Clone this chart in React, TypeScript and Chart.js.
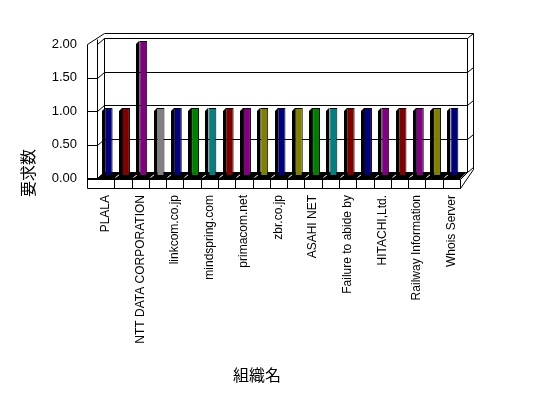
import React, { useEffect, useRef } from "react";
import { Chart, registerables } from "chart.js";

Chart.register(...registerables);

// ---- data ----
const categories: string[] = [
  "PLALA", "", "NTT DATA CORPORATION", "", "linkcom.co.jp", "", "mindspring.com", "",
  "primacom.net", "", "zbr.co.jp", "", "ASAHI NET", "", "Failure to abide by", "",
  "HITACHI,Ltd.", "", "Railway Information", "", "Whois Server",
];
const requestCounts: number[] = [1, 1, 2, 1, 1, 1, 1, 1, 1, 1, 1, 1, 1, 1, 1, 1, 1, 1, 1, 1, 1];
const barColors: string[] = [
  "#000080", "#800000", "#800080", "#808080", "#000080", "#008000", "#008080",
  "#800000", "#800080", "#808000", "#000080", "#808000", "#008000", "#008080",
  "#800000", "#000080", "#800080", "#800000", "#800080", "#808000", "#000080",
];
const yMin = 0;
const yMax = 2;
const yStep = 0.5;
const yTitle = "要求数";
const xTitle = "組織名";

// ---- 3D look parameters ----
const DX = 7;
const DY = -6;
const TH = 10;

const framePlugin = {
  id: "frame3d",
  beforeDatasetsDraw(chart: any) {
    const { ctx, chartArea } = chart;
    const L = Math.round(chartArea.left);
    const R = Math.round(chartArea.right);
    const T = Math.round(chartArea.top);
    const B = Math.round(chartArea.bottom);
    const ys = chart.scales.y;
    ctx.save();
    ctx.lineWidth = 1;
    ctx.strokeStyle = "#000";
    const line = (pts: number[][]) => {
      ctx.beginPath();
      pts.forEach(([px, py], i) => {
        if (i === 0) ctx.moveTo(px + 0.5, py + 0.5);
        else ctx.lineTo(px + 0.5, py + 0.5);
      });
      ctx.stroke();
    };
    // floor top band (black) with white slashes
    ctx.fillStyle = "#000";
    ctx.beginPath();
    ctx.moveTo(L, B + 1);
    ctx.lineTo(R, B + 1);
    ctx.lineTo(R + DX, B + DY);
    ctx.lineTo(L + DX, B + DY);
    ctx.closePath();
    ctx.fill();
    const n = categories.length;
    const cw = (R - L) / n;
    ctx.strokeStyle = "#fff";
    for (let i = 1; i < n; i++) {
      const bx = Math.round(L + cw * i);
      line([[bx + 1, B - 1], [bx + DX - 2, B + DY + 2]]);
    }
    ctx.strokeStyle = "#000";
    // back wall gridlines and left wall ticks
    const ticks = ys.ticks.map((t: any) => t.value);
    ticks.forEach((v: number) => {
      const y = Math.round(ys.getPixelForValue(v));
      if (v !== yMax) {
        line([[L - TH, y], [L, y], [L + DX, y + DY], [R + DX, y + DY], [R + DX + 6, y + DY - 5]]);
      } else {
        line([[L, y], [L + DX, y + DY], [R + DX, y + DY], [R + DX + 6, y + DY - 5]]);
      }
    });
    // outer left wall edge, bottom, right diagonal
    line([[L - TH, T], [L - TH, B + TH], [R, B + TH], [R + DX + 6, B + DY - 3]]);
    // top diagonal and top outer edge
    line([[L - TH, T], [L + DX, T + DY - 5], [R + DX + 6, T + DY - 5], [R + DX + 6, B + DY - 3]]);
    // inner left wall vertical
    line([[L, T - 5], [L, B + 1]]);
    // back wall verticals
    line([[L + DX, T + DY], [L + DX, B + DY]]);
    line([[R + DX, T + DY], [R + DX, B + DY]]);
    // floor front face
    line([[L - TH, B + 1], [R, B + 1]]);
    for (let i = 1; i <= n; i++) {
      const bx = Math.round(L + cw * i);
      line([[bx, B + 1], [bx, B + TH]]);
    }
    line([[R, B + 1], [R + DX, B + DY]]);
    ctx.restore();
  },
};

const barShiftPlugin = {
  id: "barShift",
  beforeDatasetsDraw(chart: any) {
    const { ctx } = chart;
    ctx.save();
    ctx.translate(3, -3);
    const meta = chart.getDatasetMeta(0);
    ctx.fillStyle = "#000";
    meta.data.forEach((el: any) => {
      const { x, y, base, width } = el.getProps(["x", "y", "base", "width"], true);
      if (Math.abs(base - y) < 1) return;
      const left = Math.round(x - width / 2);
      ctx.beginPath();
      ctx.moveTo(left - 3, y + 3);
      ctx.lineTo(left, y);
      ctx.lineTo(left, base);
      ctx.lineTo(left - 3, base);
      ctx.closePath();
      ctx.fill();
    });
  },
  afterDatasetsDraw(chart: any) {
    chart.ctx.restore();
  },
};

const titlesPlugin = {
  id: "titles",
  afterDraw(chart: any) {
    const { ctx } = chart;
    ctx.save();
    ctx.fillStyle = "#000";
    ctx.font = '16px "Noto Sans CJK JP", sans-serif';
    ctx.textAlign = "center";
    ctx.textBaseline = "middle";
    ctx.fillText(xTitle, 257, 375);
    ctx.translate(28, 173);
    ctx.rotate(-Math.PI / 2);
    ctx.fillText(yTitle, 0, 0);
    ctx.restore();
  },
};

export default function App() {
  const ref = useRef<HTMLCanvasElement | null>(null);
  useEffect(() => {
    if (!ref.current) return;
    const chart = new Chart(ref.current, {
      type: "bar",
      data: {
        labels: categories,
        datasets: [
          {
            data: requestCounts,
            backgroundColor: barColors,
            borderColor: "#000",
            borderWidth: 1,
            barPercentage: 0.46,
            categoryPercentage: 1,
            clip: false as any,
          },
        ],
      },
      options: {
        animation: false,
        responsive: false,
        devicePixelRatio: 1,
        layout: { padding: { left: 0, top: 44, right: 88, bottom: 0 } },
        plugins: { legend: { display: false }, tooltip: { enabled: false } },
        scales: {
          x: {
            grid: { display: false, drawTicks: false },
            border: { display: false },
            ticks: {
              autoSkip: false,
              minRotation: 90,
              maxRotation: 90,
              padding: 17,
              color: "#000",
              font: { family: '"Liberation Sans", Arial, sans-serif', size: 12 },
            },
            afterFit: (s: any) => {
              s.height = 220;
            },
          },
          y: {
            min: yMin,
            max: yMax,
            grid: { display: false, drawTicks: false },
            border: { display: false },
            ticks: {
              stepSize: yStep,
              padding: 20,
              color: "#000",
              font: { family: '"Liberation Sans", Arial, sans-serif', size: 13 },
              callback: (v: any) => Number(v).toFixed(2),
            },
            afterFit: (s: any) => {
              s.width = 97;
            },
          },
        },
      },
      plugins: [framePlugin, barShiftPlugin, titlesPlugin],
    });
    return () => chart.destroy();
  }, []);
  return (
    <div style={{ position: "fixed", left: 0, top: 0, width: 548, height: 398, background: "#fff" }}>
      <canvas ref={ref} width={548} height={398} style={{ display: "block" }} />
    </div>
  );
}
